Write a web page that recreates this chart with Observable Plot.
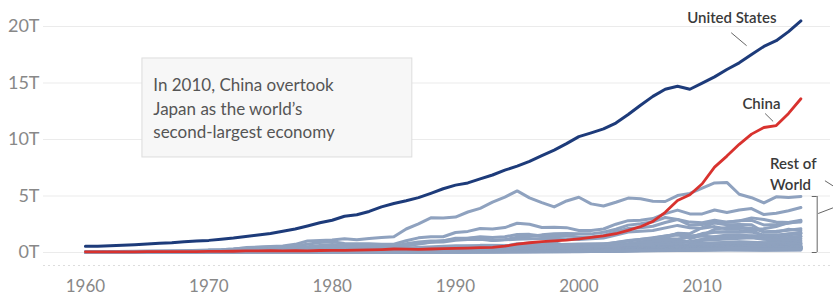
<!DOCTYPE html>
<html>
<head>
<meta charset="utf-8">
<script src="https://cdn.jsdelivr.net/npm/d3@7"></script>
<script src="https://cdn.jsdelivr.net/npm/@observablehq/plot@0.6"></script>
<style>
  html, body { margin: 0; padding: 0; background: #fff; }
  #chart { width: 833px; height: 300px; }
</style>
</head>
<body>
<div id="chart"></div>
<script>
// ---- Data (trillions of current US$) ----
const years = d3.range(1960, 2019);
const usGDP = [
  0.543,0.563,0.605,0.638,0.686,0.744,0.815,0.862,0.943,1.020,
  1.073,1.165,1.280,1.425,1.545,1.684,1.873,2.082,2.352,2.627,
  2.857,3.207,3.343,3.634,4.037,4.339,4.580,4.855,5.236,5.642,
  5.963,6.158,6.520,6.859,7.287,7.640,8.073,8.578,9.063,9.631,
  10.252,10.582,10.936,11.458,12.214,13.037,13.815,14.452,14.713,14.449,
  14.992,15.543,16.197,16.785,17.527,18.238,18.745,19.543,20.494
];
const chinaGDP = [
  0.060,0.050,0.047,0.051,0.060,0.070,0.077,0.073,0.070,0.079,
  0.092,0.099,0.112,0.137,0.142,0.162,0.152,0.172,0.150,0.178,
  0.191,0.196,0.210,0.234,0.260,0.310,0.301,0.273,0.312,0.348,
  0.361,0.383,0.427,0.445,0.564,0.735,0.864,0.962,1.029,1.094,
  1.211,1.339,1.471,1.660,1.955,2.286,2.752,3.552,4.598,5.110,
  6.087,7.552,8.532,9.570,10.476,11.062,11.233,12.310,13.608
];

// Rest of world: [year, GDP] pairs per country
const japan = [[1960,0.044],[1962,0.061],[1964,0.082],[1966,0.106],[1968,0.147],[1970,0.213],[1971,0.240],[1972,0.318],[1973,0.432],[1974,0.479],[1975,0.521],[1976,0.586],[1977,0.721],[1978,1.014],[1979,1.055],[1980,1.105],[1981,1.219],[1982,1.134],[1983,1.243],[1984,1.318],[1985,1.399],[1986,2.079],[1987,2.533],[1988,3.071],[1989,3.054],[1990,3.133],[1991,3.584],[1992,3.909],[1993,4.455],[1994,4.907],[1995,5.449],[1996,4.834],[1997,4.415],[1998,4.032],[1999,4.562],[2000,4.888],[2001,4.304],[2002,4.115],[2003,4.445],[2004,4.815],[2005,4.755],[2006,4.530],[2007,4.515],[2008,5.038],[2009,5.231],[2010,5.700],[2011,6.157],[2012,6.203],[2013,5.156],[2014,4.850],[2015,4.389],[2016,4.927],[2017,4.860],[2018,4.955]];
const germany = [[1970,0.215],[1971,0.249],[1972,0.300],[1973,0.398],[1974,0.445],[1975,0.489],[1976,0.518],[1977,0.600],[1978,0.740],[1979,0.882],[1980,0.950],[1981,0.801],[1982,0.777],[1983,0.771],[1984,0.725],[1985,0.733],[1986,1.046],[1987,1.297],[1988,1.402],[1989,1.398],[1990,1.772],[1991,1.869],[1992,2.131],[1993,2.071],[1994,2.206],[1995,2.592],[1996,2.504],[1997,2.217],[1998,2.243],[1999,2.199],[2000,1.950],[2001,1.950],[2002,2.079],[2003,2.506],[2004,2.819],[2005,2.862],[2006,3.003],[2007,3.440],[2008,3.752],[2009,3.418],[2010,3.417],[2011,3.757],[2012,3.544],[2013,3.753],[2014,3.890],[2015,3.357],[2016,3.469],[2017,3.690],[2018,3.977]];
const uk = [[1960,0.073],[1965,0.100],[1970,0.131],[1972,0.170],[1973,0.193],[1974,0.206],[1975,0.242],[1976,0.233],[1977,0.263],[1978,0.336],[1979,0.438],[1980,0.565],[1981,0.540],[1982,0.515],[1983,0.489],[1984,0.461],[1985,0.489],[1986,0.601],[1987,0.745],[1988,0.910],[1989,0.926],[1990,1.093],[1991,1.142],[1992,1.179],[1993,1.061],[1994,1.140],[1995,1.344],[1996,1.419],[1997,1.561],[1998,1.653],[1999,1.688],[2000,1.665],[2001,1.649],[2002,1.786],[2003,2.059],[2004,2.422],[2005,2.544],[2006,2.713],[2007,3.100],[2008,2.923],[2009,2.411],[2010,2.475],[2011,2.659],[2012,2.705],[2013,2.786],[2014,3.064],[2015,2.928],[2016,2.694],[2017,2.666],[2018,2.861]];
const france = [[1960,0.062],[1965,0.101],[1970,0.148],[1972,0.204],[1973,0.264],[1974,0.286],[1975,0.361],[1976,0.372],[1977,0.411],[1978,0.506],[1979,0.614],[1980,0.701],[1981,0.615],[1982,0.585],[1983,0.559],[1984,0.530],[1985,0.553],[1986,0.771],[1987,0.934],[1988,1.019],[1989,1.025],[1990,1.269],[1991,1.269],[1992,1.402],[1993,1.323],[1994,1.394],[1995,1.601],[1996,1.605],[1997,1.452],[1998,1.503],[1999,1.492],[2000,1.362],[2001,1.377],[2002,1.500],[2003,1.844],[2004,2.120],[2005,2.196],[2006,2.320],[2007,2.657],[2008,2.918],[2009,2.690],[2010,2.643],[2011,2.862],[2012,2.683],[2013,2.811],[2014,2.852],[2015,2.438],[2016,2.471],[2017,2.595],[2018,2.788]];
const italy = [[1960,0.040],[1965,0.067],[1970,0.113],[1973,0.175],[1975,0.228],[1978,0.315],[1980,0.477],[1982,0.432],[1985,0.437],[1987,0.802],[1990,1.181],[1992,1.322],[1993,1.061],[1995,1.175],[1997,1.240],[1998,1.271],[2000,1.147],[2002,1.274],[2004,1.807],[2006,1.949],[2008,2.398],[2009,2.192],[2010,2.135],[2011,2.292],[2012,2.087],[2014,2.159],[2015,1.836],[2016,1.877],[2017,1.961],[2018,2.092]];
const india = [[1960,0.037],[1965,0.059],[1970,0.062],[1975,0.099],[1980,0.186],[1985,0.233],[1990,0.321],[1991,0.270],[1995,0.360],[2000,0.468],[2003,0.607],[2005,0.820],[2007,1.217],[2008,1.199],[2009,1.342],[2010,1.676],[2011,1.823],[2012,1.828],[2013,1.857],[2014,2.039],[2015,2.104],[2016,2.295],[2017,2.651],[2018,2.701]];
const brazil = [[1960,0.017],[1965,0.022],[1970,0.042],[1975,0.123],[1980,0.235],[1985,0.222],[1988,0.330],[1990,0.462],[1992,0.400],[1994,0.559],[1995,0.770],[1997,0.883],[1998,0.864],[1999,0.599],[2000,0.655],[2002,0.508],[2004,0.669],[2006,1.107],[2008,1.696],[2009,1.667],[2010,2.209],[2011,2.616],[2012,2.465],[2013,2.473],[2014,2.456],[2015,1.802],[2016,1.796],[2017,2.064],[2018,1.917]];
const canada = [[1960,0.041],[1965,0.057],[1970,0.088],[1975,0.174],[1980,0.273],[1985,0.364],[1990,0.594],[1992,0.578],[1995,0.604],[2000,0.744],[2002,0.758],[2004,1.023],[2006,1.315],[2007,1.465],[2008,1.549],[2009,1.371],[2010,1.614],[2011,1.789],[2012,1.824],[2013,1.843],[2014,1.802],[2015,1.556],[2016,1.528],[2017,1.650],[2018,1.721]];
const russia = [[1989,0.507],[1990,0.517],[1991,0.518],[1992,0.460],[1993,0.435],[1995,0.396],[1997,0.405],[1998,0.271],[1999,0.196],[2000,0.260],[2002,0.345],[2004,0.591],[2006,0.990],[2007,1.300],[2008,1.661],[2009,1.223],[2010,1.525],[2011,2.046],[2012,2.208],[2013,2.292],[2014,2.059],[2015,1.363],[2016,1.277],[2017,1.575],[2018,1.657]];
const korea = [[1960,0.004],[1970,0.009],[1975,0.022],[1980,0.065],[1985,0.101],[1990,0.283],[1995,0.566],[1996,0.610],[1997,0.570],[1998,0.383],[2000,0.576],[2002,0.628],[2004,0.765],[2006,1.053],[2007,1.172],[2008,1.047],[2009,0.944],[2010,1.144],[2012,1.278],[2014,1.484],[2015,1.466],[2016,1.500],[2017,1.624],[2018,1.725]];
const australia = [[1960,0.019],[1965,0.026],[1970,0.041],[1975,0.098],[1980,0.150],[1985,0.181],[1990,0.311],[1995,0.367],[2000,0.416],[2001,0.379],[2003,0.467],[2005,0.693],[2007,0.940],[2008,1.055],[2009,0.928],[2010,1.143],[2011,1.394],[2012,1.543],[2013,1.573],[2014,1.467],[2015,1.351],[2016,1.209],[2017,1.330],[2018,1.434]];
const spain = [[1960,0.012],[1965,0.024],[1970,0.041],[1975,0.115],[1980,0.232],[1985,0.180],[1990,0.536],[1992,0.631],[1995,0.612],[2000,0.596],[2002,0.705],[2004,1.069],[2006,1.260],[2008,1.635],[2009,1.499],[2010,1.432],[2012,1.336],[2014,1.372],[2015,1.196],[2016,1.233],[2017,1.312],[2018,1.421]];
const mexico = [[1960,0.013],[1965,0.021],[1970,0.035],[1975,0.088],[1980,0.205],[1982,0.184],[1985,0.195],[1990,0.261],[1994,0.527],[1995,0.360],[2000,0.708],[2002,0.772],[2004,0.770],[2006,0.966],[2008,1.109],[2009,0.900],[2010,1.058],[2012,1.201],[2014,1.315],[2015,1.172],[2016,1.078],[2017,1.158],[2018,1.222]];
const indonesia = [[1970,0.009],[1975,0.030],[1980,0.072],[1985,0.085],[1990,0.106],[1995,0.202],[1997,0.216],[1998,0.095],[2000,0.165],[2005,0.286],[2008,0.510],[2010,0.755],[2012,0.918],[2013,0.913],[2014,0.891],[2015,0.861],[2016,0.932],[2017,1.015],[2018,1.042]];
const netherlands = [[1960,0.012],[1970,0.038],[1975,0.098],[1980,0.194],[1985,0.141],[1990,0.318],[1995,0.452],[2000,0.416],[2002,0.465],[2004,0.649],[2006,0.733],[2008,0.936],[2010,0.846],[2012,0.829],[2014,0.882],[2015,0.765],[2016,0.783],[2018,0.914]];
const saudiArabia = [[1970,0.005],[1975,0.047],[1980,0.164],[1985,0.104],[1990,0.117],[1995,0.143],[2000,0.190],[2005,0.328],[2008,0.520],[2009,0.430],[2010,0.528],[2012,0.736],[2014,0.756],[2016,0.645],[2018,0.787]];
const turkey = [[1960,0.014],[1970,0.017],[1975,0.044],[1980,0.069],[1985,0.067],[1990,0.151],[1994,0.131],[1998,0.276],[2001,0.200],[2004,0.405],[2006,0.553],[2008,0.765],[2009,0.649],[2010,0.777],[2012,0.880],[2013,0.957],[2015,0.864],[2016,0.870],[2018,0.779]];
const switzerland = [[1960,0.009],[1970,0.024],[1975,0.059],[1980,0.119],[1985,0.103],[1990,0.259],[1995,0.341],[2000,0.280],[2005,0.408],[2008,0.554],[2010,0.603],[2011,0.722],[2014,0.721],[2016,0.696],[2018,0.735]];
const sweden = [[1960,0.015],[1970,0.038],[1975,0.080],[1980,0.141],[1985,0.108],[1990,0.259],[1993,0.199],[1995,0.264],[2000,0.262],[2002,0.274],[2005,0.389],[2008,0.514],[2009,0.430],[2011,0.574],[2013,0.587],[2015,0.505],[2018,0.555]];
const belgium = [[1960,0.012],[1970,0.027],[1975,0.063],[1980,0.127],[1985,0.087],[1990,0.205],[1995,0.287],[2000,0.237],[2005,0.390],[2008,0.518],[2010,0.484],[2012,0.498],[2014,0.535],[2015,0.462],[2018,0.543]];
const argentina = [[1962,0.025],[1970,0.031],[1975,0.052],[1980,0.077],[1985,0.088],[1990,0.141],[1995,0.258],[1998,0.299],[2000,0.284],[2002,0.098],[2005,0.199],[2008,0.362],[2010,0.424],[2011,0.530],[2013,0.552],[2014,0.526],[2015,0.594],[2016,0.557],[2017,0.643],[2018,0.518]];
const poland = [[1990,0.066],[1995,0.142],[2000,0.172],[2004,0.256],[2008,0.534],[2009,0.440],[2011,0.529],[2013,0.525],[2015,0.477],[2016,0.472],[2018,0.587]];
const iran = [[1965,0.006],[1975,0.051],[1977,0.080],[1980,0.094],[1985,0.180],[1990,0.124],[1995,0.090],[2000,0.110],[2005,0.226],[2008,0.406],[2010,0.487],[2012,0.599],[2014,0.435],[2016,0.458],[2018,0.446]];
const norway = [[1960,0.005],[1970,0.013],[1980,0.064],[1990,0.119],[2000,0.171],[2005,0.309],[2008,0.462],[2010,0.431],[2013,0.523],[2015,0.386],[2016,0.368],[2018,0.434]];
const austria = [[1960,0.007],[1970,0.016],[1980,0.082],[1990,0.166],[2000,0.197],[2005,0.316],[2008,0.431],[2012,0.409],[2014,0.441],[2015,0.382],[2018,0.455]];
const southAfrica = [[1960,0.008],[1970,0.018],[1980,0.083],[1985,0.058],[1990,0.116],[1995,0.155],[2000,0.152],[2002,0.129],[2006,0.272],[2008,0.287],[2011,0.417],[2015,0.318],[2016,0.296],[2018,0.368]];
const nigeria = [[1960,0.004],[1970,0.013],[1980,0.064],[1985,0.073],[1990,0.054],[1995,0.044],[2000,0.069],[2005,0.176],[2008,0.330],[2010,0.369],[2014,0.546],[2016,0.405],[2018,0.422]];
const thailand = [[1960,0.003],[1970,0.007],[1980,0.032],[1990,0.085],[1996,0.183],[1998,0.113],[2005,0.189],[2010,0.341],[2013,0.420],[2015,0.401],[2018,0.507]];
const denmark = [[1960,0.006],[1970,0.017],[1980,0.071],[1985,0.063],[1990,0.138],[1995,0.185],[2000,0.164],[2005,0.264],[2008,0.354],[2010,0.322],[2015,0.302],[2018,0.356]];
const hongKong = [[1960,0.001],[1970,0.004],[1980,0.029],[1990,0.077],[1997,0.177],[2003,0.161],[2010,0.229],[2018,0.363]];
const greece = [[1960,0.005],[1970,0.013],[1980,0.057],[1990,0.097],[2000,0.130],[2008,0.355],[2010,0.300],[2013,0.240],[2018,0.218]];
const finland = [[1960,0.005],[1970,0.011],[1980,0.053],[1990,0.141],[1993,0.087],[2000,0.126],[2008,0.284],[2012,0.256],[2015,0.233],[2018,0.276]];
const portugal = [[1960,0.003],[1970,0.008],[1980,0.033],[1990,0.079],[2000,0.118],[2008,0.262],[2013,0.226],[2015,0.199],[2018,0.241]];
const malaysia = [[1960,0.002],[1980,0.025],[1990,0.044],[1997,0.100],[2000,0.094],[2010,0.255],[2014,0.338],[2016,0.301],[2018,0.358]];
const singapore = [[1970,0.002],[1980,0.012],[1990,0.038],[2000,0.096],[2008,0.193],[2010,0.240],[2014,0.314],[2018,0.364]];
const israel = [[1960,0.002],[1980,0.023],[1990,0.059],[2000,0.132],[2008,0.216],[2014,0.309],[2018,0.370]];
const philippines = [[1960,0.007],[1980,0.032],[1990,0.044],[2000,0.081],[2010,0.208],[2018,0.347]];
const colombia = [[1960,0.004],[1980,0.034],[1990,0.047],[2000,0.100],[2008,0.244],[2013,0.382],[2016,0.283],[2018,0.333]];

const restOfWorld = [
  ["Japan", japan], ["Germany", germany], ["United Kingdom", uk], ["France", france],
  ["Italy", italy], ["India", india], ["Brazil", brazil], ["Canada", canada],
  ["Russia", russia], ["South Korea", korea], ["Australia", australia], ["Spain", spain],
  ["Mexico", mexico], ["Indonesia", indonesia], ["Netherlands", netherlands],
  ["Saudi Arabia", saudiArabia], ["Turkey", turkey], ["Switzerland", switzerland],
  ["Sweden", sweden], ["Belgium", belgium], ["Argentina", argentina], ["Poland", poland],
  ["Iran", iran], ["Norway", norway], ["Austria", austria], ["South Africa", southAfrica],
  ["Nigeria", nigeria], ["Thailand", thailand], ["Denmark", denmark], ["Hong Kong", hongKong],
  ["Greece", greece], ["Finland", finland], ["Portugal", portugal], ["Malaysia", malaysia],
  ["Singapore", singapore], ["Israel", israel], ["Philippines", philippines], ["Colombia", colombia]
];

const xTicks = [1960, 1970, 1980, 1990, 2000, 2010];
const yTicks = [0, 5, 10, 15, 20];
const annotationText = "In 2010, China overtook\nJapan as the world\u2019s\nsecond-largest economy";

// ---- Build tables ----
const usRows = years.map((year, i) => ({year, v: usGDP[i]}));
const chinaRows = years.map((year, i) => ({year, v: chinaGDP[i]}));
const restRows = restOfWorld.flatMap(([name, pts]) => pts.map(([year, v]) => ({name, year, v})));
const lastYear = years[years.length - 1];
const restMax2018 = d3.max(restRows.filter(d => d.year === lastYear), d => d.v);

const navy = "#1d3b7a", red = "#d8322e", grey = "#8fa2bf", ink = "#3a3a3a", leader = "#666";

const chart = Plot.plot({
  width: 833,
  height: 300,
  marginLeft: 43,
  marginRight: 3,
  marginTop: 0,
  marginBottom: 35,
  style: {fontFamily: "Lato, 'Open Sans', sans-serif", fontSize: "17px", color: "#888", background: "#fff", overflow: "visible"},
  x: {domain: [1956.6, 2020.4]},
  y: {domain: [-1.15, 22.3]},
  marks: [
    Plot.gridY(yTicks, {stroke: "#ebebeb", strokeOpacity: 1}),
    Plot.ruleY([-1.15], {stroke: "#ddd", strokeDasharray: "2,3"}),
    Plot.axisY(yTicks, {tickSize: 0, tickPadding: 4, tickFormat: d => d + "T", fill: "#888", fontSize: 18}),
    Plot.axisX(xTicks, {tickSize: 0, tickPadding: 14, tickFormat: d => String(d), fill: "#888"}),

    // annotation box
    Plot.rect([{x1: 1964.62, x2: 1986.5, y1: 8.41, y2: 17.17}], {x1: "x1", x2: "x2", y1: "y1", y2: "y2", fill: "#f7f7f7", stroke: "#ddd"}),
    Plot.text([annotationText], {x: 1965.5, y: 12.85, text: d => d, textAnchor: "start", lineHeight: 1.38, fontSize: 17, fill: "#555"}),

    // rest of world lines
    Plot.line(restRows, {x: "year", y: "v", z: "name", stroke: grey, strokeWidth: 3, curve: "linear"}),
    // China, US
    Plot.line(chinaRows, {x: "year", y: "v", stroke: red, strokeWidth: 2.8}),
    Plot.line(usRows, {x: "year", y: "v", stroke: navy, strokeWidth: 3}),

    // labels
    Plot.text(["United States"], {x: 2012.4, y: 20.7, text: d => d, fontSize: 15, fontWeight: 600, fill: ink}),
    Plot.link([0], {x1: 2012.35, y1: 19.45, x2: 2013.6, y2: 18.3, stroke: leader, strokeWidth: 1}),
    Plot.text(["China"], {x: 2014.8, y: 13.1, text: d => d, fontSize: 15, fontWeight: 600, fill: ink}),
    Plot.link([0], {x1: 2015.1, y1: 12.3, x2: 2015.75, y2: 11.6, stroke: leader, strokeWidth: 1}),
    Plot.text(["Rest of\nWorld"], {x: 2015.5, y: 7.05, text: d => d, textAnchor: "start", lineHeight: 1.4, fontSize: 15, fontWeight: 600, fill: ink}),
    Plot.link([0], {x1: 2019.95, y1: 6.35, x2: 2020.6, y2: 5.9, stroke: leader, strokeWidth: 1}),
    // bracket spanning rest-of-world range in 2018
    Plot.ruleX([0], {x: 2019.32, y1: 0, y2: restMax2018, stroke: leader, strokeWidth: 1}),
    Plot.ruleY([0, restMax2018], {x1: 2018.92, x2: 2019.32, stroke: leader, strokeWidth: 1}),
    Plot.link([0], {x1: 2019.4, y1: 3.45, x2: 2020.6, y2: 3.95, stroke: leader, strokeWidth: 1})
  ]
});
document.getElementById("chart").appendChild(chart);
</script>
</body>
</html>
